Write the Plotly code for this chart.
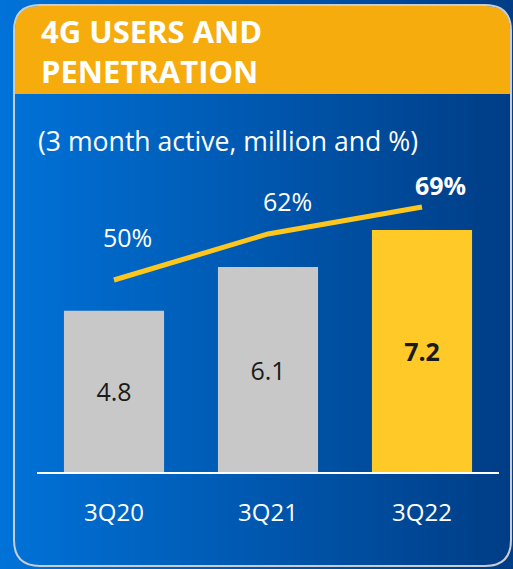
import plotly.graph_objects as go

# data
quarters = ["3Q20", "3Q21", "3Q22"]
users_m = [4.8, 6.1, 7.2]          # 3 month active users, million
penetration = [50, 62, 69]         # %

W, H = 513, 569

def px(x):
    return x / W

def py(y):
    return 1 - y / H

bar_colors = ["#C8C8C8", "#C8C8C8", "#FFCA28"]
bar_text = [f"{v}" for v in users_m[:-1]] + [f"<b>{users_m[-1]}</b>"]
pct_text = [f"{v}%" for v in penetration[:-1]] + [f"<b>{penetration[-1]}%</b>"]
pct_shift = [(13, 43), (19, 33), (18, 22)]

fig = go.Figure()

fig.add_trace(go.Bar(
    x=quarters, y=users_m, marker=dict(color=bar_colors, line=dict(width=0)),
    text=bar_text, textposition="inside", insidetextanchor="middle",
    textfont=dict(family="Open Sans", size=25, color="#1A1A1A"),
    hoverinfo="skip",
))

fig.add_trace(go.Scatter(
    x=quarters, y=penetration, yaxis="y2", mode="lines",
    line=dict(color="#FFC61E", width=5), hoverinfo="skip",
))

# background gradient (left light blue -> right dark blue)
shapes = []
n = 80
c0 = (0, 114, 216)
c1 = (0, 61, 134)
for i in range(n):
    t = i / (n - 1)
    col = "rgb(%d,%d,%d)" % tuple(round(a + (b - a) * t) for a, b in zip(c0, c1))
    shapes.append(dict(type="rect", xref="paper", yref="paper", layer="below",
                       x0=i / n, x1=(i + 1.5) / n, y0=0, y1=1,
                       fillcolor=col, line=dict(width=0)))

# header band with rounded top corners
l, r, t, b, rad = 15, 510, 6, 94, 24
header = (f"M {px(l)},{py(b)} L {px(l)},{py(t + rad)} "
          f"Q {px(l)},{py(t)} {px(l + rad)},{py(t)} "
          f"L {px(r - rad)},{py(t)} Q {px(r)},{py(t)} {px(r)},{py(t + rad)} "
          f"L {px(r)},{py(b)} Z")
shapes.append(dict(type="path", path=header, xref="paper", yref="paper", layer="below",
                   fillcolor="#F6AC0D", line=dict(width=0)))

# card outline
l, r, t, b, rad = 14, 511, 5, 566, 26
card = (f"M {px(l)},{py(t + rad)} Q {px(l)},{py(t)} {px(l + rad)},{py(t)} "
        f"L {px(r - rad)},{py(t)} Q {px(r)},{py(t)} {px(r)},{py(t + rad)} "
        f"L {px(r)},{py(b - rad)} Q {px(r)},{py(b)} {px(r - rad)},{py(b)} "
        f"L {px(l + rad)},{py(b)} Q {px(l)},{py(b)} {px(l)},{py(b - rad)} Z")
shapes.append(dict(type="path", path=card, xref="paper", yref="paper", layer="below",
                   fillcolor="rgba(0,0,0,0)", line=dict(color="#C9CDD3", width=2)))

annotations = [
    dict(x=px(39), y=py(8), xref="paper", yref="paper", xanchor="left", yanchor="top",
         align="left", showarrow=False,
         text="<b>4G USERS AND<br>PENETRATION</b>",
         font=dict(family="Open Sans", size=31, color="white")),
    dict(x=px(36), y=py(141), xref="paper", yref="paper", xanchor="left", yanchor="middle",
         showarrow=False, text="(3 month active, million and %)",
         font=dict(family="Open Sans", size=26.6, color="white")),
]
for q, v, txt, (dx, dy) in zip(quarters, penetration, pct_text, pct_shift):
    annotations.append(dict(x=q, y=v, xref="x", yref="y2", showarrow=False,
                            xshift=dx, yshift=dy, text=txt,
                            font=dict(family="Open Sans", size=25, color="white")))

fig.update_layout(
    width=W, height=H,
    margin=dict(l=0, r=0, t=0, b=0),
    paper_bgcolor="#0058B0", plot_bgcolor="rgba(0,0,0,0)",
    showlegend=False, bargap=0.35,
    font=dict(family="Open Sans", color="white"),
    xaxis=dict(domain=[px(37), px(499)], range=[-0.5, 2.5], showgrid=False, zeroline=False,
               showline=True, linecolor="white", linewidth=2,
               ticks="outside", ticklen=18, tickcolor="rgba(0,0,0,0)",
               tickfont=dict(family="Open Sans", size=24, color="white")),
    yaxis=dict(domain=[py(472), py(88)], range=[0, 11.43], visible=False),
    yaxis2=dict(domain=[py(472), py(88)], range=[0, 100], overlaying="y", visible=False),
    shapes=shapes, annotations=annotations,
)

fig.write_html("out.html", config={"displayModeBar": False},
               post_script="document.body.style.margin='0';")
